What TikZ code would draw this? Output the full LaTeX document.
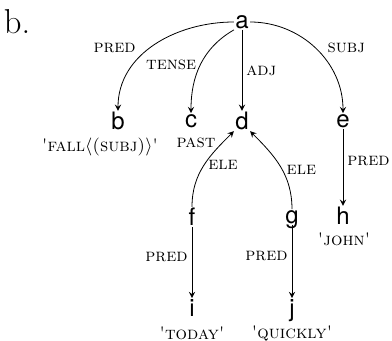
\documentclass[tikz,border=0pt]{standalone}
\usepackage{amsmath}
\usepackage{fontspec}
\newfontfamily\letterfont{TeX Gyre Heros}
\usetikzlibrary{positioning}

\begin{document}
\begin{tikzpicture}[x=0.5pt, y=-0.5pt, >=stealth,
  every fnode/.style={font=\letterfont\large, inner sep=0.5pt, text depth=0pt},
  every rel/.style={font=\scshape\small, inner sep=2pt},
  every gloss/.style={font=\scshape\small, inner sep=0pt}]

\useasboundingbox (0,0) rectangle (392,341);

\node [font=\LARGE] (tag) at (17,22) {b.};

\foreach \n/\x/\y in {a/242/22, b/118/121, c/191/121, d/242/121, e/343/121,
                      f/192/217, g/292/217, h/343/216, i/192/308, j/292/308}
  \node [every fnode/.try] (\n) at (\x,\y) {\n};

% glosses under the words
\foreach \n/\x/\y/\t in {b/100/147/{\textquotesingle fall$\langle$(subj)$\rangle$\textquotesingle},
                         c/196/143/past, h/344/239/{\textquotesingle john\textquotesingle},
                         i/192/333/{\textquotesingle today\textquotesingle},
                         j/292/333/{\textquotesingle quickly\textquotesingle}}
  \node [every gloss/.try] (\n-gloss) at (\x,\y) {\t};

\draw [->] (a.west) to [out=180, in=90]
  node [every rel/.try, above left, pos=0.62] {pred} (b.north);
\draw [->] (a.south west) to [out=210, in=90]
  node [every rel/.try, left, pos=0.5] {tense} (c.north);
\draw [->] (a) -- (d)
  node [every rel/.try, right, midway] {adj};
\draw [->] (a.east) to [out=0, in=90]
  node [every rel/.try, above right, pos=0.58] {subj} (e.north);

\draw [->] (f.north) to [out=90, in=-135]
  node [every rel/.try, right, pos=0.5] {ele} (d.south west);
\draw [->] (g.north) to [out=90, in=-45]
  node [every rel/.try, right, pos=0.45] {ele} (d.south east);

\foreach \i/\j/\side in {e/h/right, f/i/left, g/j/left}
  \draw [->] (\i) -- (\j)
    node [every rel/.try, pos=0.42, \side] {pred};

\end{tikzpicture}
\end{document}
